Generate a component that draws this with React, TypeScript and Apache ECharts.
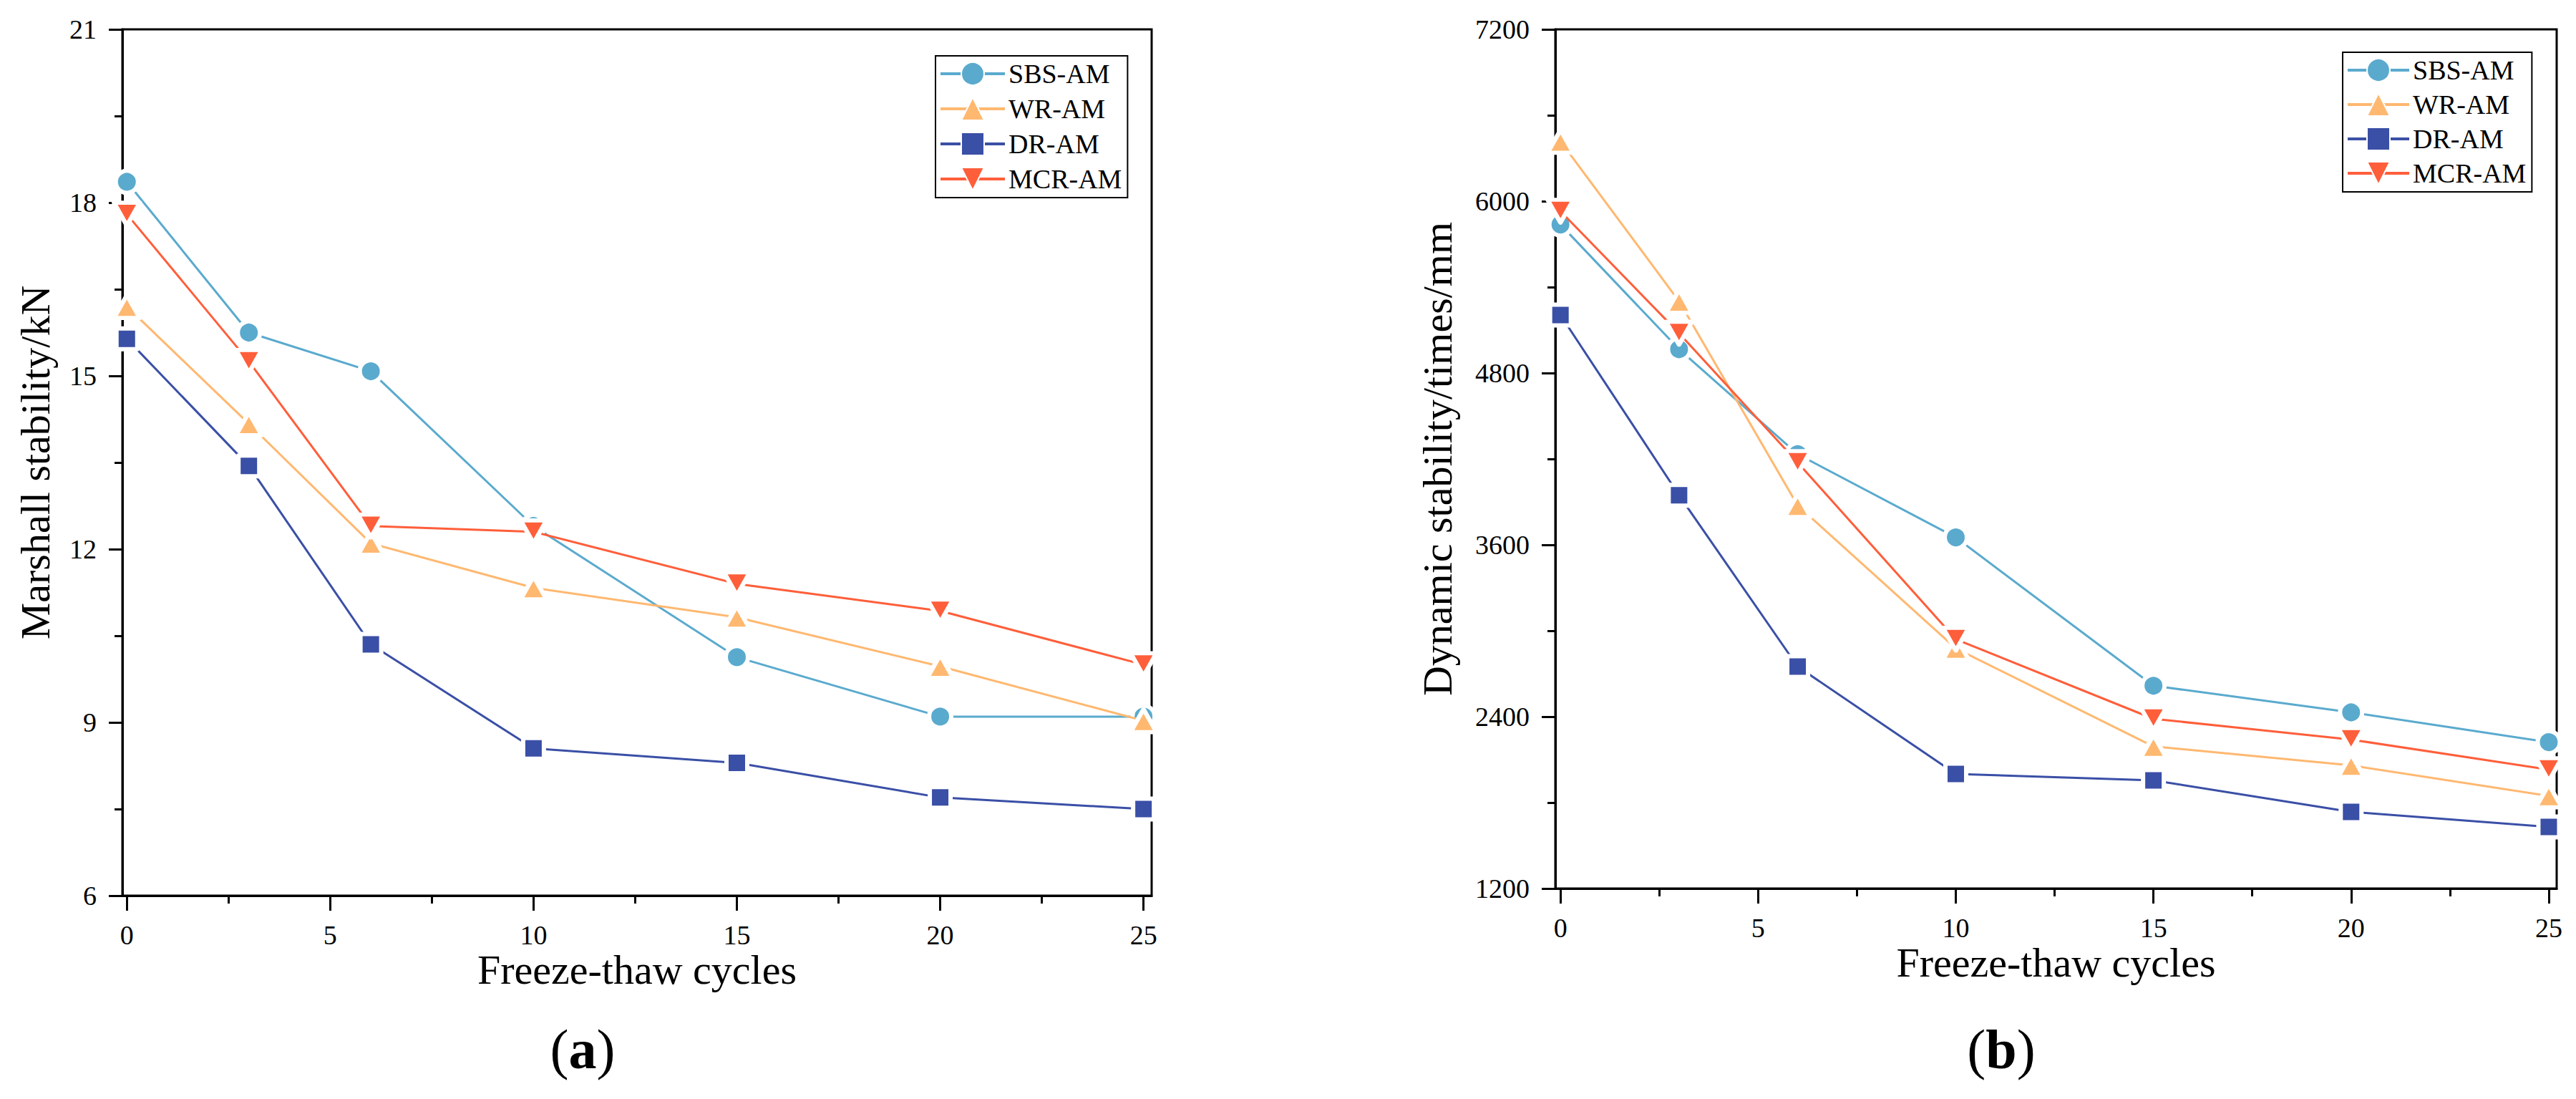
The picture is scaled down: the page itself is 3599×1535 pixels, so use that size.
import { useEffect, useRef } from 'react';
import * as echarts from 'echarts';

// freeze-thaw cycles on the x axis
const cycles = [0, 3, 6, 10, 15, 20, 25];
const seriesNames = ['SBS-AM', 'WR-AM', 'DR-AM', 'MCR-AM'];

// (a) Marshall stability / kN
const marshallSBS = [18.36, 15.75, 15.08, 12.4, 10.13, 9.1, 9.1];
const marshallWR = [16.2, 14.17, 12.1, 11.33, 10.82, 9.97, 9.03];
const marshallDR = [15.64, 13.44, 10.35, 8.55, 8.3, 7.7, 7.5];
const marshallMCR = [17.8, 15.25, 12.4, 12.3, 11.4, 10.93, 10.0];

// (b) Dynamic stability / times/mm
const dynamicSBS = [5837, 4966, 4233, 3652, 2616, 2430, 2222];
const dynamicWR = [6418, 5301, 3875, 2877, 2192, 2060, 1847];
const dynamicDR = [5205, 3946, 2750, 2000, 1955, 1735, 1630];
const dynamicMCR = [5930, 5078, 4175, 2941, 2385, 2240, 2030];

const xTickValues = [0, 5, 10, 15, 20, 25];
const xMinorTickValues = [2.5, 7.5, 12.5, 17.5, 22.5];

const colors = ['#5AAACE', '#FFB870', '#3A4FA6', '#FF5E3A'];
const symbols = ['circle', 'triangle', 'rect', 'triangle'];
const symbolSizes: any[] = [31, [36, 32], 29, [36, 32]];
const symbolRotates = [0, 0, 0, 180];

const FONT = "'Liberation Serif', 'Times New Roman', serif";

export default function App() {
  const chartRef = useRef<HTMLDivElement>(null);

  useEffect(() => {
    if (!chartRef.current) return;
    const chart = echarts.init(chartRef.current, undefined, { renderer: 'svg' });

    const axisText = { color: '#000', fontFamily: FONT, fontSize: 38 };
    const lineBlack = { color: '#000', width: 3 };

    const makeX = (gridIndex: number, min: number, max: number) => [
      {
        type: 'value',
        gridIndex,
        position: 'bottom',
        min,
        max,
        name: 'Freeze-thaw cycles',
        nameLocation: 'middle',
        nameGap: 74,
        nameMoveOverlap: false,
        nameTextStyle: { color: '#000', fontFamily: FONT, fontSize: 58 },
        axisLine: { show: true, onZero: false, lineStyle: lineBlack },
        axisTick: { show: true, length: 21, customValues: xTickValues, lineStyle: lineBlack },
        axisLabel: { ...axisText, margin: 36, customValues: xTickValues, formatter: (v: number) => String(v) },
        splitLine: { show: false },
      },
      {
        type: 'value',
        gridIndex,
        position: 'bottom',
        min,
        max,
        axisLine: { show: false },
        axisTick: { show: true, length: 11, customValues: xMinorTickValues, lineStyle: lineBlack },
        axisLabel: { show: false },
        splitLine: { show: false },
      },
    ];

    const makeY = (gridIndex: number, name: string, min: number, max: number, interval: number, gap: number) => ({
      type: 'value',
      gridIndex,
      min,
      max,
      interval,
      name,
      nameLocation: 'middle',
      nameGap: gap,
      nameMoveOverlap: false,
      nameTextStyle: { color: '#000', fontFamily: FONT, fontSize: 58 },
      axisLine: { show: true, onZero: false, lineStyle: lineBlack },
      axisTick: { show: true, length: 19, lineStyle: lineBlack },
      minorTick: { show: true, splitNumber: 2, length: 11, lineStyle: lineBlack },
      axisLabel: { ...axisText, margin: 36, formatter: (v: number) => String(v) },
      splitLine: { show: false },
    });

    const makeSeries = (gridIdx: number, data: number[][]) =>
      data.map((vals, i) => ({
        name: seriesNames[i],
        type: 'line',
        xAxisIndex: gridIdx * 2,
        yAxisIndex: gridIdx,
        data: cycles.map((c, k) => [c, vals[k]]),
        symbol: symbols[i],
        symbolSize: symbolSizes[i],
        symbolRotate: symbolRotates[i],
        showAllSymbol: true,
        clip: false,
        lineStyle: { color: colors[i], width: 3 },
        itemStyle: { color: colors[i], borderColor: '#fff', borderWidth: 6, borderJoin: 'round' },
        emphasis: { disabled: true },
        z: 3 + i,
      }));

    const makeLegend = (left: number, top: number, itemWidth: number, itemGap: number) => ({
      orient: 'vertical',
      left,
      top,
      itemWidth,
      itemHeight: 40,
      itemGap,
      padding: [6, 8, 7, 5],
      borderColor: '#000',
      borderWidth: 2,
      backgroundColor: '#fff',
      selectedMode: false,
      data: seriesNames,
      lineStyle: { width: 4 },
      textStyle: { color: '#000', fontFamily: FONT, fontSize: 38 },
    });

    const option: any = {
      animation: false,
      backgroundColor: '#fff',
      grid: [
        { left: 171, top: 41, width: 1438, height: 1210, show: true, borderColor: '#000', borderWidth: 3, backgroundColor: 'transparent', outerBoundsMode: 'none', containLabel: false },
        { left: 2173, top: 41, width: 1399, height: 1200, show: true, borderColor: '#000', borderWidth: 3, backgroundColor: 'transparent', outerBoundsMode: 'none', containLabel: false },
      ],
      xAxis: [...makeX(0, -0.11, 25.2), ...makeX(1, -0.13, 25.2)],
      yAxis: [
        makeY(0, 'Marshall stability/kN', 6, 21, 3, 93),
        makeY(1, 'Dynamic stability/times/mm', 1200, 7200, 1200, 136),
      ],
      legend: [makeLegend(1307, 78, 90, 11), makeLegend(3273, 73, 86, 10)],
      series: [
        ...makeSeries(0, [marshallSBS, marshallWR, marshallDR, marshallMCR]),
        ...makeSeries(1, [dynamicSBS, dynamicWR, dynamicDR, dynamicMCR]),
      ],
      graphic: [
        {
          type: 'text',
          x: 814,
          y: 1465,
          style: {
            text: '({b|a})',
            fontFamily: FONT,
            fontSize: 78,
            fill: '#000',
            align: 'center',
            verticalAlign: 'middle',
            rich: { b: { fontFamily: FONT, fontSize: 78, fontWeight: 'bold', fill: '#000' } },
          },
        },
        {
          type: 'text',
          x: 2796,
          y: 1465,
          style: {
            text: '({b|b})',
            fontFamily: FONT,
            fontSize: 78,
            fill: '#000',
            align: 'center',
            verticalAlign: 'middle',
            rich: { b: { fontFamily: FONT, fontSize: 78, fontWeight: 'bold', fill: '#000' } },
          },
        },
      ],
    };

    chart.setOption(option);

    const handleResize = () => {
      chart.resize();
    };
    window.addEventListener('resize', handleResize);

    return () => {
      window.removeEventListener('resize', handleResize);
      chart.dispose();
    };
  }, []);

  return (
    <div
      ref={chartRef}
      style={{ position: 'absolute', left: 0, top: 0, width: '3599px', height: '1535px' }}
    />
  );
}
